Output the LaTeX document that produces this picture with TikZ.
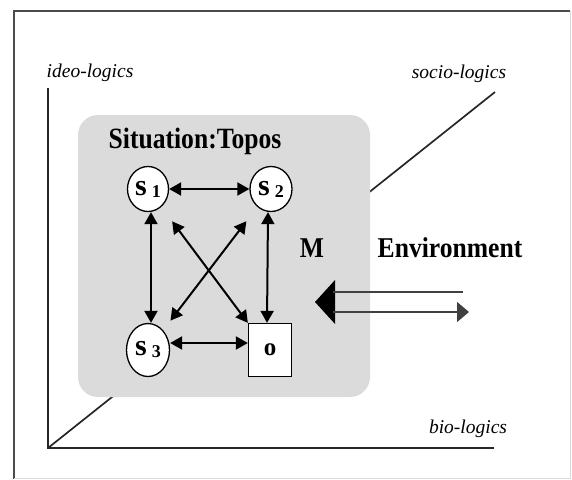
\documentclass[tikz,border=0pt]{standalone}
\usepackage{fontspec}
\setmainfont{Liberation Serif}
\usetikzlibrary{arrows.meta,shapes.geometric}
\begin{document}
\begin{tikzpicture}[x=1pt,y=-1pt,
  frameline/.style={line width=1.4pt, draw=black!70},
  faint/.style={line width=0.8pt, draw=black!15},
  axis/.style={line width=1.7pt, draw=black!85},
  state/.style={ellipse, draw, line width=1.3pt, fill=white, inner sep=0pt},
  objbox/.style={rectangle, draw, line width=1.3pt, fill=white, inner sep=0pt},
  link/.style={line width=2pt, {Triangle[length=12pt,width=13pt]}-{Triangle[length=12pt,width=13pt]}},
  axlabel/.style={font=\fontsize{19.5}{20}\selectfont\itshape, anchor=base, inner sep=0pt},
  boldlabel/.style={font=\fontsize{25.6}{28}\selectfont\bfseries, anchor=base, inner sep=0pt},
  envline/.style={line width=1.6pt, draw=black!75},
  slabel/.style={font=\fontsize{30}{30}\selectfont\bfseries},
]
\useasboundingbox (0,0) rectangle (572,479);
% frame
\draw[frameline] (570,11) -- (14,11) -- (14,479);
\draw[faint] (570,11) -- (570,478) -- (14,478);
% axes
\coordinate (orig) at (48,448);
\coordinate (ytop) at (48,88);
\coordinate (xend) at (494,448);
\coordinate (zend) at (495,92);
\draw[axis] (ytop) -- (orig) -- (xend);
\draw[axis] (orig) -- (zend);
% situation box
\fill[black!14, rounded corners=20pt] (78,115) rectangle (370,397);
% labels
\node[axlabel] (ideo) at (90,77) {ideo-logics};
\node[axlabel] (socio) at (459,78) {socio-logics};
\node[axlabel] (bio) at (468,433) {bio-logics};
\node[boldlabel] (sit) at (195,148) {\scalebox{1}[1.15]{Situation:Topos}};
\node[boldlabel] (M) at (312,257) {\scalebox{1}[1.12]{M}};
\node[boldlabel] (env) at (450,257) {\scalebox{1}[1.12]{Environment}};
% states
\node[state, slabel, minimum width=41pt, minimum height=45pt] (s1) at (148,189)
  {s\,\raisebox{-2pt}{\fontsize{18}{18}\selectfont 1}};
\node[state, slabel, minimum width=42pt, minimum height=45pt] (s2) at (271,189)
  {s\,\raisebox{-2pt}{\fontsize{18}{18}\selectfont 2}};
\node[state, slabel, minimum width=43pt, minimum height=53pt] (s3) at (148,350)
  {s\,\raisebox{-2pt}{\fontsize{18}{18}\selectfont 3}};
\node[objbox, minimum width=43pt, minimum height=53pt] (o) at (270,350)
  {\fontsize{25}{25}\selectfont\bfseries o};
% links
\draw[link] (s1) -- (s2);
\draw[link] ([xshift=3pt]s1.south) -- ([xshift=3pt]s3.north);
\draw[link] ([xshift=-3pt]s2.south) -- ([xshift=-3pt]o.north);
\draw[link] ([yshift=7pt]s3.east) -- ([yshift=7pt]o.west);
\draw[link, shorten <=18pt] (s1) -- (o.north west);
\draw[link, shorten <=18pt, shorten >=12pt] (s2) -- (s3);
% environment exchange
\coordinate (tip) at (315,302);
\coordinate (bt) at (335,280);
\coordinate (bb) at (335,324);
\coordinate (u0) at (333,292);
\coordinate (u1) at (463,292);
\coordinate (l0) at (333,312);
\coordinate (l1) at (469,312);
\fill[black] (tip) -- (bt) -- (bb) -- cycle;
\draw[envline] (u0) -- (u1);
\draw[envline, -{Triangle[length=12pt,width=20pt]}] (l0) -- (l1);
\end{tikzpicture}
\end{document}
